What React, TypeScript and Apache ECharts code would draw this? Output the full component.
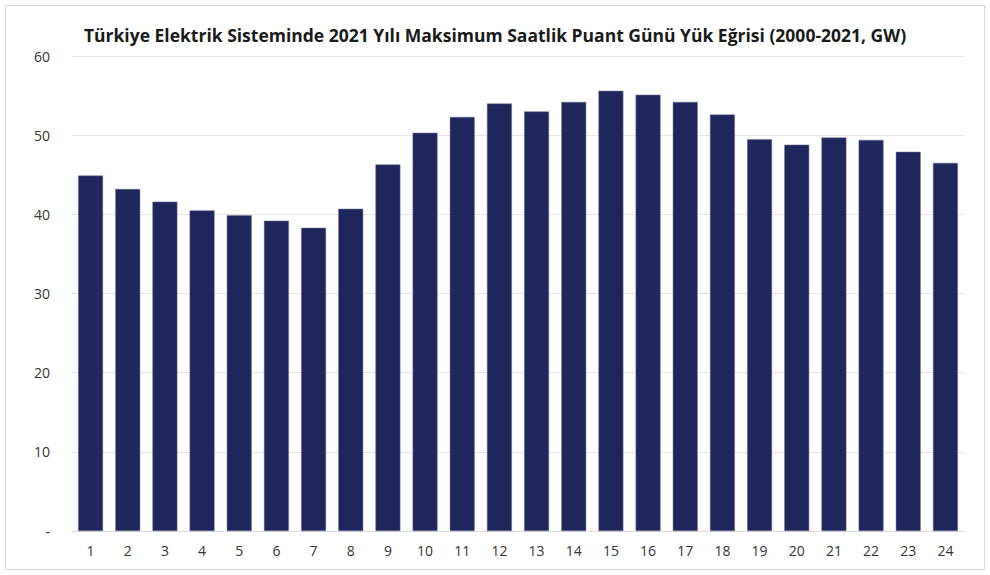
import React, { useEffect, useRef } from "react";
import * as echarts from "echarts";

const hours = ["1","2","3","4","5","6","7","8","9","10","11","12","13","14","15","16","17","18","19","20","21","22","23","24"];
const loadGW = [44.9, 43.2, 41.6, 40.5, 39.9, 39.2, 38.3, 40.7, 46.3, 50.3, 52.3, 54.0, 53.0, 54.2, 55.6, 55.1, 54.2, 52.6, 49.5, 48.8, 49.7, 49.4, 47.9, 46.5];
const titleText = "Türkiye Elektrik Sisteminde 2021 Yılı Maksimum Saatlik Puant Günü Yük Eğrisi (2000-2021, GW)";

export default function App() {
  const ref = useRef<HTMLDivElement>(null);
  useEffect(() => {
    if (!ref.current) return;
    const chart = echarts.init(ref.current, undefined, { renderer: "svg" });
    chart.setOption({
      animation: false,
      backgroundColor: "#ffffff",
      title: {
        text: titleText,
        left: "center",
        top: 21,
        textStyle: { fontFamily: "Open Sans", fontWeight: "bold", fontSize: 17.5, color: "#1a1a1a" },
      },
      graphic: [
        {
          type: "rect",
          shape: { x: 5.5, y: 5.5, width: 979, height: 564 },
          style: { fill: "none", stroke: "#d9d9d9", lineWidth: 1 },
          silent: true,
        },
      ],
      grid: { left: 72, right: 26, top: 56, bottom: 44 },
      xAxis: {
        type: "category",
        data: hours,
        axisLine: { lineStyle: { color: "#d9d9d9" } },
        axisTick: { show: false },
        axisLabel: { color: "#333333", fontSize: 14, fontFamily: "Open Sans", margin: 12 },
      },
      yAxis: {
        type: "value",
        min: 0,
        max: 60,
        interval: 10,
        axisLine: { show: false },
        axisTick: { show: false },
        splitLine: { lineStyle: { color: "#e5e5e5" } },
        axisLabel: {
          color: "#333333",
          fontSize: 14,
          fontFamily: "Open Sans",
          margin: 22,
          formatter: (v: number) => (v === 0 ? "-" : String(v)),
        },
      },
      series: [
        {
          type: "bar",
          data: loadGW,
          barCategoryGap: "33%",
          itemStyle: { color: "#1f265c", borderColor: "#6b6f95", borderWidth: 0.5 },
        },
      ],
    });
    return () => chart.dispose();
  }, []);
  return <div ref={ref} style={{ position: "fixed", left: 0, top: 0, width: 990, height: 575 }} />;
}
